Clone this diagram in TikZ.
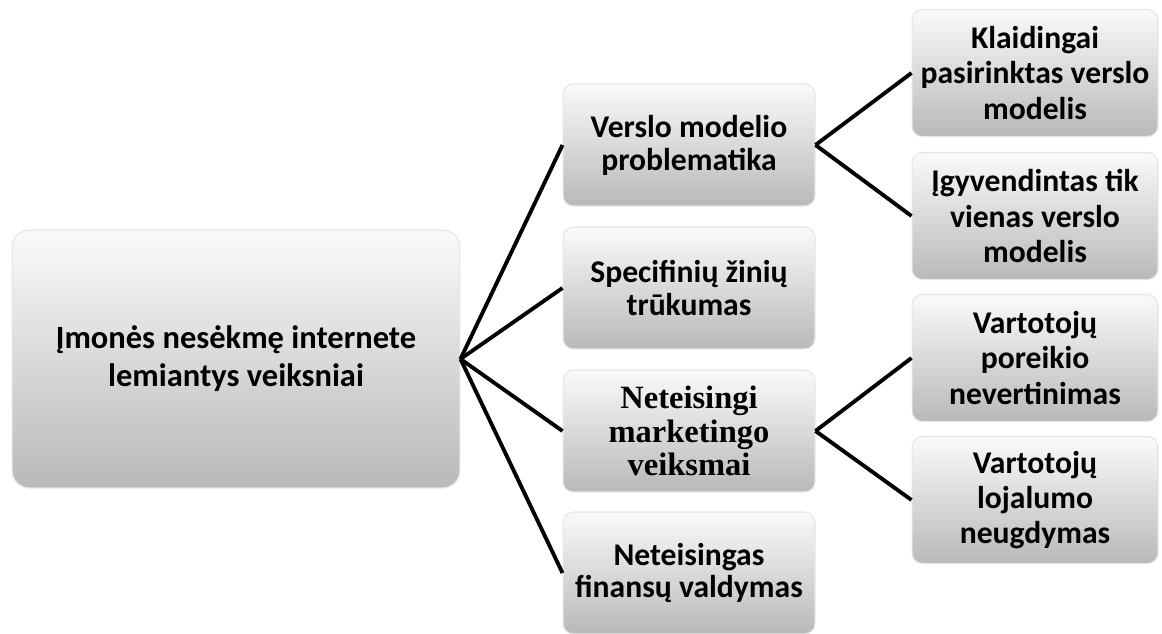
\documentclass[tikz,border=0pt]{standalone}
\usepackage{fontspec}
\setmainfont{Carlito}
\newfontfamily\timesfont{Liberation Serif}
\usetikzlibrary{positioning}

\begin{document}
\begin{tikzpicture}[x=0.02cm, y=-0.02cm,
    box/.style={rectangle, rounded corners=6pt, draw=gray!20, line width=0.6pt,
        top color=gray!4, bottom color=gray!55, align=center, inner sep=2pt,
        font=\bfseries\fontsize{18}{18.7}\selectfont},
    rootbox/.style={box, minimum width=8.96cm, minimum height=5.16cm,
        rounded corners=10pt, font=\bfseries\fontsize{18.5}{21.5}\selectfont},
    midbox/.style={box, minimum width=5.04cm, minimum height=2.44cm},
    leafbox/.style={box, minimum width=4.92cm, minimum height=2.54cm,
        font=\bfseries\fontsize{18}{20}\selectfont},
    link/.style={line width=2.2pt, black}]
    \useasboundingbox (0,0) rectangle (1162,634);
    % kairysis blokas
    \node[rootbox] (imone) at (236,359) {Įmonės nesėkmę internete\\lemiantys veiksniai};
    % viduriniai blokai
    \node[midbox] (verslas) at (689,145) {Verslo modelio\\problematika};
    \node[midbox] (zinios) at (689,288) {Specifinių žinių\\trūkumas};
    \node[midbox, font=\timesfont\bfseries\fontsize{18.5}{19}\selectfont] (marketingas) at (689,431) {Neteisingi\\marketingo\\veiksmai};
    \node[midbox] (finansai) at (689,573) {Neteisingas\\finansų valdymas};
    % dešinieji blokai
    \node[leafbox] (klaida) at (1035,73) {Klaidingai\\pasirinktas verslo\\modelis};
    \node[leafbox] (vienas) at (1035,216) {Įgyvendintas tik\\vienas verslo\\modelis};
    \node[leafbox] (poreikis) at (1035,358) {Vartotojų\\poreikio\\nevertinimas};
    \node[leafbox] (lojalumas) at (1035,500) {Vartotojų\\lojalumo\\neugdymas};
    % jungtys
    \foreach \m in {verslas,zinios,marketingas,finansai} {
        \draw[link] (imone.east) -- (\m.west);
    }
    \foreach \l in {klaida,vienas} {
        \draw[link] (verslas.east) -- (\l.west);
    }
    \foreach \l in {poreikis,lojalumas} {
        \draw[link] (marketingas.east) -- (\l.west);
    }
\end{tikzpicture}
\end{document}
